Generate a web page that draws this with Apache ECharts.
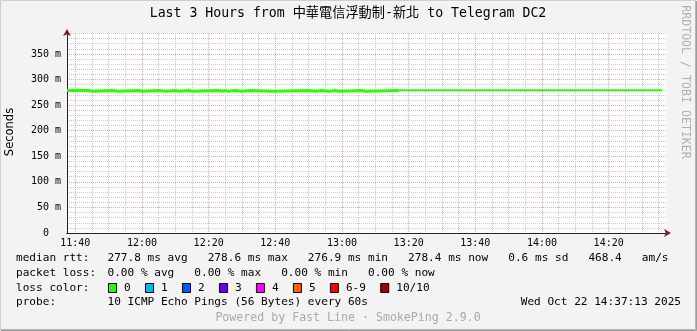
<!DOCTYPE html>
<html><head><meta charset="utf-8">
<script src="https://cdn.jsdelivr.net/npm/echarts@6/dist/echarts.min.js"></script>
<style>html,body{margin:0;padding:0;background:#f3f3f3}#c{width:697px;height:331px}</style>
</head><body><div id="c"></div>
<script>
// ---------- data ----------
const chartTitle = 'Last 3 Hours from 中華電信浮動制-新北 to Telegram DC2';
const yAxisName = 'Seconds';
const timeStart = '11:37:30';
const timeEnd = '14:37:30';
const xMajorTicks = ['11:40','12:00','12:20','12:40','13:00','13:20','13:40','14:00','14:20'];
const yMajorTicks = [0, 50, 100, 150, 200, 250, 300, 350];
const yMax = 391;
// median RTT (ms) – each value holds until the next time (step)
const medianTimes1 = ['11:37:30','11:44','11:45','11:51','11:53','11:59','12:00','12:05','12:07','12:10','12:11','12:14','12:15',
  '12:23','12:24','12:25','12:26','12:28','12:30','12:33','12:39','12:50','12:52','12:54','12:56','12:58','12:59','13:06','13:07','13:17'];
const medianValues1 = [278.6,277.0,278.6,277.0,278.6,277.0,278.6,277.0,278.6,277.0,278.6,277.0,278.6,
  277.0,278.6,277.0,278.6,277.0,278.6,277.0,278.6,277.0,278.6,277.0,278.6,277.0,278.6,277.0,278.6,278.6];
const medianTimes2 = ['13:17','14:36'];
const medianValues2 = [279.0, 279.0];
const lossLabels = ['0','1','2','3','4','5','6-9','10/10'];
const lossColors = ['#26ff00','#00b8ff','#0059ff','#6a00ff','#ff00ff','#ff5e00','#ff0000','#a10000'];
const rttStats = ['277.8 ms avg','278.6 ms max','276.9 ms min','278.4 ms now','0.6 ms sd','468.4','am/s'];
const lossStats = ['0.00 % avg','0.00 % max','0.00 % min','0.00 % now'];
const probeText = '10 ICMP Echo Pings (56 Bytes) every 60s';
const dateText = 'Wed Oct 22 14:37:13 2025';
const footerText = 'Powered by Fast Line · SmokePing 2.9.0';
const sideText = 'RRDTOOL / TOBI OETIKER';

// ---------- helpers ----------
function toMin(s){const p=s.split(':').map(Number);return p[0]*60+p[1]+(p[2]||0)/60;}
function fmt(m){const h=Math.floor(m/60),mm=Math.round(m-h*60);return String(h).padStart(2,'0')+':'+String(mm).padStart(2,'0');}
const xMin = toMin(timeStart), xMax = toMin(timeEnd);
const xMajor = xMajorTicks.map(toMin);
const xMinor = []; for (let m = Math.ceil(xMin/5)*5; m <= xMax; m += 5) xMinor.push(m);
const yMinor = []; for (let v = 0; v <= yMax; v += 10) yMinor.push(v);

const MONO = 'DejaVu Sans Mono, Noto Sans CJK TC, monospace';
const GRID_MINOR = '#cccccc', GRID_MAJOR = '#f0a0a0';
const LFS = 11.1, CW = LFS * 0.602;

function xAxisBase(extra){return Object.assign({type:'value',min:xMin,max:xMax,position:'bottom',
  axisLine:{show:false},axisTick:{show:false},axisLabel:{show:false},splitLine:{show:false}},extra);}
function yAxisBase(extra){return Object.assign({type:'value',min:0,max:yMax,position:'left',
  axisLine:{show:false},axisTick:{show:false},axisLabel:{show:false},splitLine:{show:false}},extra);}

const xAxes = [
  xAxisBase({axisTick:{show:false,customValues:xMinor},splitLine:{show:true,lineStyle:{color:GRID_MINOR,width:1,type:[1,1]}}}),
  xAxisBase({axisTick:{show:false,customValues:xMajor},axisLabel:{show:true,customValues:xMajor,formatter:v=>fmt(v),
      fontFamily:MONO,fontSize:10,color:'#000',margin:5},
      splitLine:{show:true,lineStyle:{color:GRID_MAJOR,width:1,type:[1,1]}}}),
  xAxisBase({axisLine:{show:true,onZero:false,symbol:['none','arrow'],symbolSize:[6,7],symbolOffset:[0,4],lineStyle:{color:'#8b1a1a',width:1}}}),
  xAxisBase({axisLine:{show:true,onZero:false,lineStyle:{color:'#222',width:1}}})
];
const yAxes = [
  yAxisBase({axisTick:{show:false,customValues:yMinor},splitLine:{show:true,lineStyle:{color:GRID_MINOR,width:1,type:[1,1]}}}),
  yAxisBase({axisTick:{show:false,customValues:yMajorTicks},axisLabel:{show:true,customValues:yMajorTicks,
      formatter:v=>v===0?'0  ':v+' m',fontFamily:MONO,fontSize:10,color:'#000',margin:6},
      splitLine:{show:true,lineStyle:{color:GRID_MAJOR,width:1,type:[1,1]}}}),
  yAxisBase({axisLine:{show:true,onZero:false,symbol:['none','arrow'],symbolSize:[6,7],symbolOffset:[0,4],lineStyle:{color:'#8b1a1a',width:1}}}),
  yAxisBase({axisLine:{show:true,onZero:false,lineStyle:{color:'#222',width:1}}})
];

// ---------- legend / text graphics ----------
const g = [];
function txt(x,y,s,o){g.push({type:'text',x:x,y:y,silent:true,style:Object.assign({text:s,font:LFS+'px '+MONO,fill:'#000',textVerticalAlign:'middle'},o||{})});}
// frame
g.push({type:'polyline',silent:true,shape:{points:[[0.5,330],[0.5,0.5],[696,0.5]]},style:{stroke:'#cfcfcf',lineWidth:1,fill:null}});
g.push({type:'polyline',silent:true,shape:{points:[[1,330.5],[696.5,330.5],[696.5,1]]},style:{stroke:'#9e9e9e',lineWidth:1,fill:null}});
g.push({type:'polyline',silent:true,shape:{points:[[1,329.5],[695.5,329.5],[695.5,1]]},style:{stroke:'#b4b4b4',lineWidth:1,fill:null}});
txt(348,14,chartTitle,{font:'13.2px '+MONO,textAlign:'center'});
g.push({type:'text',x:10,y:132,rotation:Math.PI/2,silent:true,style:{text:yAxisName,font:'11.5px DejaVu Sans, sans-serif',fill:'#000',textAlign:'center',textVerticalAlign:'middle'}});
g.push({type:'text',x:685,y:82,rotation:-Math.PI/2,silent:true,style:{text:sideText,font:'11.6px '+MONO,fill:'#b0b0b0',textAlign:'center',textVerticalAlign:'middle'}});
const COL = 107.5;
txt(16,258,'median rtt:');
txt(COL,258,rttStats.join('   '));
txt(16,273,'packet loss:');
txt(COL,273,lossStats.join('   '));
txt(16,288,'loss color:');
let sx = 108;
lossLabels.forEach((s,i)=>{
  g.push({type:'rect',silent:true,shape:{x:sx+0.5,y:283.5,width:8,height:9},style:{fill:lossColors[i],stroke:'#000',lineWidth:1}});
  txt(sx+16,288,s);
  sx += 16 + s.length*CW + 14.3;
});
txt(16,302,'probe:');
txt(COL,302,probeText);
txt(681,302,dateText,{textAlign:'right'});
txt(348,318,footerText,{textAlign:'center',fill:'#aaaaaa',font:'11.6px '+MONO});

function pairs(ts,vs){return ts.map((t,i)=>[toMin(t),vs[i]]);}

const chart = echarts.init(document.getElementById('c'),null,{renderer:'canvas'});
chart.setOption({
  animation:false,
  backgroundColor:'#f3f3f3',
  grid:{left:67,right:30,top:33,bottom:98,show:true,backgroundColor:'#fff',borderWidth:0},
  xAxis:xAxes,
  yAxis:yAxes,
  series:[
    {type:'line',xAxisIndex:1,yAxisIndex:1,step:'end',symbol:'none',data:pairs(medianTimes1,medianValues1),
      lineStyle:{color:'#26ff00',width:3,cap:'butt',join:'miter'},z:5},
    {type:'line',xAxisIndex:1,yAxisIndex:1,symbol:'none',data:pairs(medianTimes2,medianValues2),
      lineStyle:{color:'#26ff00',width:2,cap:'butt'},z:5}
  ],
  graphic:g
});
</script></body></html>
